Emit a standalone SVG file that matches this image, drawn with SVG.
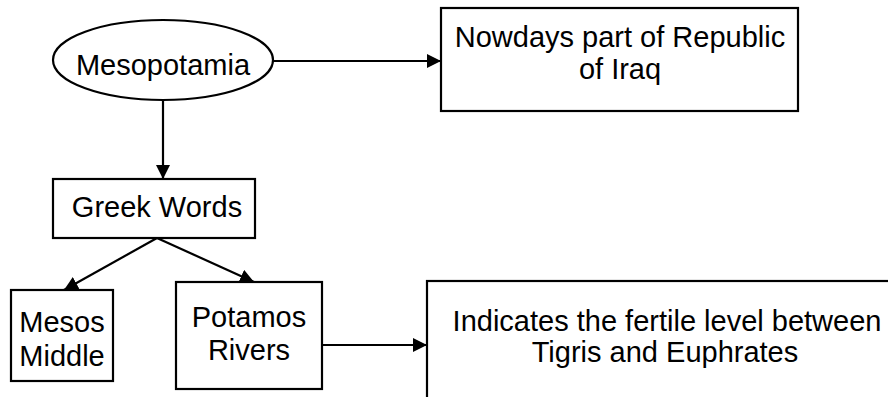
<svg xmlns="http://www.w3.org/2000/svg" width="888" height="397" viewBox="0 0 888 397">
<style>
.shape{fill:#fff;stroke:#000;stroke-width:2.2}
.t{font-family:"Liberation Sans",Arial,sans-serif;font-size:29px;fill:#000;text-anchor:middle}
.c{stroke:#000;stroke-width:2.2;fill:none;marker-end:url(#arr)}
</style>
<defs>
<marker id="arr" viewBox="0 0 14 14" refX="14" refY="7" markerWidth="14" markerHeight="14" markerUnits="userSpaceOnUse" orient="auto">
<path d="M0,0 L14,7 L0,14 Z" fill="#000"/>
</marker>
</defs>
<rect width="888" height="397" fill="#fff"/>
<g id="connectors">
<line class="c" x1="273" y1="61" x2="441" y2="61"/>
<line class="c" x1="163" y1="100" x2="163" y2="179"/>
<line class="c" x1="157" y1="238" x2="64" y2="290"/>
<line class="c" x1="157" y1="238" x2="254" y2="282"/>
<line class="c" x1="322" y1="345" x2="427" y2="345"/>
</g>
<g id="mesopotamia">
<ellipse class="shape" cx="163" cy="60" rx="110" ry="40"/>
<text class="t" x="163" y="75">Mesopotamia</text>
</g>
<g id="iraq">
<rect class="shape" x="441" y="8" width="357" height="103"/>
<text class="t" x="620" y="47">Nowdays part of Republic</text>
<text class="t" x="620" y="79">of Iraq</text>
</g>
<g id="greek">
<rect class="shape" x="53" y="179" width="202" height="59"/>
<text class="t" x="157" y="217">Greek Words</text>
</g>
<g id="mesos">
<rect class="shape" x="11" y="290" width="102" height="91"/>
<text class="t" x="62" y="332">Mesos</text>
<text class="t" x="62" y="366">Middle</text>
</g>
<g id="potamos">
<rect class="shape" x="176" y="282" width="146" height="107"/>
<text class="t" x="249" y="327">Potamos</text>
<text class="t" x="249" y="360">Rivers</text>
</g>
<g id="indicates">
<rect class="shape" x="427" y="281" width="490" height="140"/>
<text class="t" x="667" y="331">Indicates the fertile level between</text>
<text class="t" x="665" y="362">Tigris and Euphrates</text>
</g>
</svg>
